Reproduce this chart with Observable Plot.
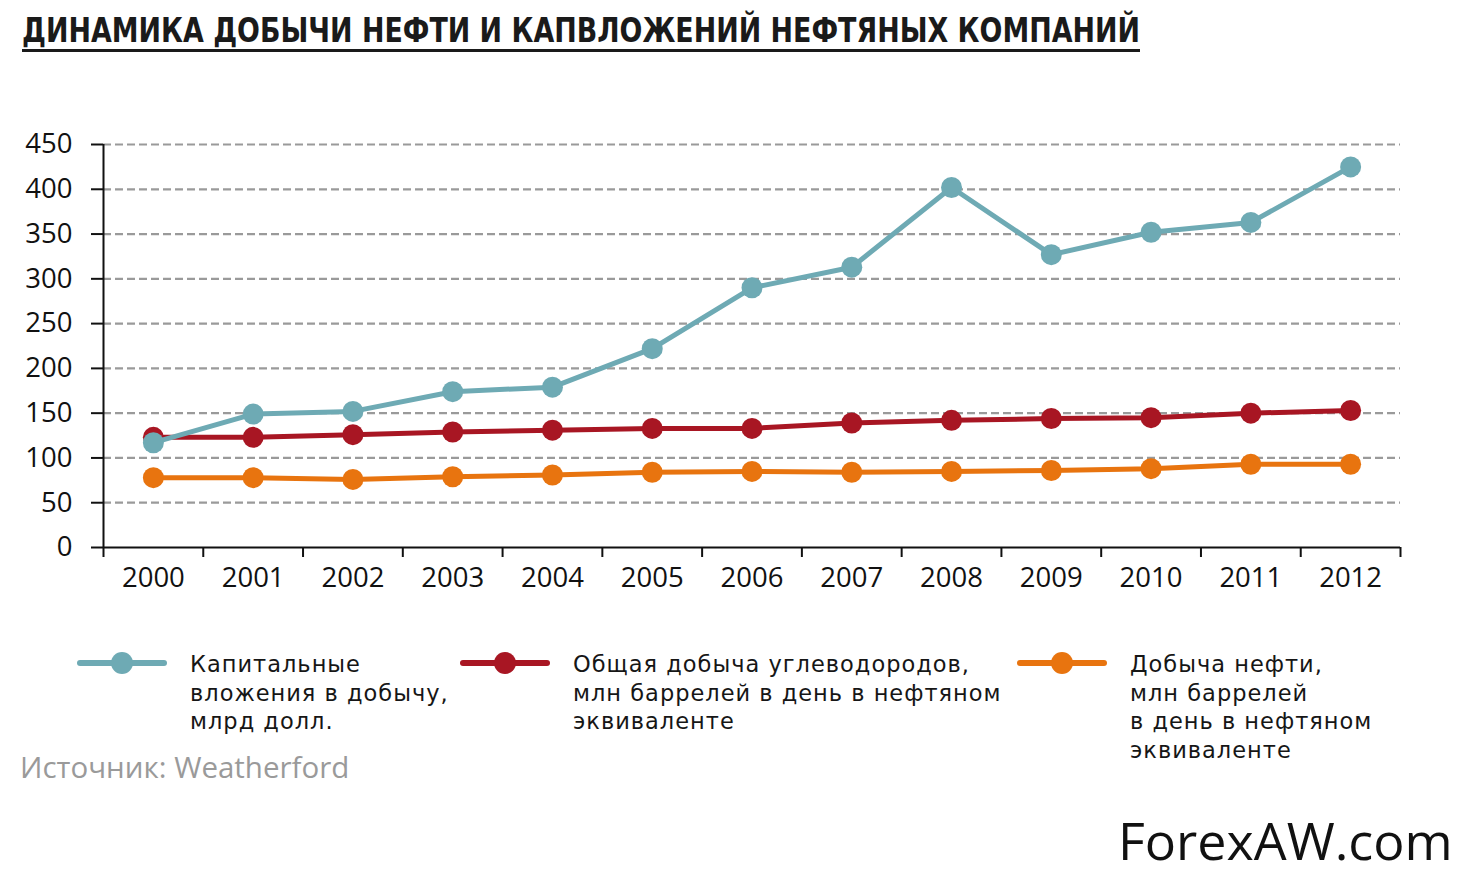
<!DOCTYPE html>
<html><head><meta charset="utf-8">
<script src="https://cdn.jsdelivr.net/npm/d3@7"></script>
<script src="https://cdn.jsdelivr.net/npm/@observablehq/plot@0.6"></script>
<style>
html,body{margin:0;padding:0;background:#fff;}
body{width:1462px;height:885px;position:relative;overflow:hidden;font-family:"Open Sans",sans-serif;color:#111;}
#title{position:absolute;left:22px;top:11px;font-family:"DejaVu Sans Condensed","DejaVu Sans",sans-serif;font-weight:bold;font-size:33px;color:#1a1a1a;white-space:nowrap;transform-origin:0 0;}
#uline{position:absolute;left:22px;top:49px;width:1118px;height:3px;background:#1a1a1a;}
#chart{position:absolute;left:0;top:0;}
.leg{position:absolute;top:650px;}
.sw{position:absolute;top:10px;height:6px;border-radius:3px;}
.dot{position:absolute;top:2px;width:22px;height:22px;border-radius:11px;}
.lt{position:absolute;top:0;font-family:"DejaVu Sans",sans-serif;font-size:22.5px;letter-spacing:1px;line-height:28.5px;white-space:nowrap;color:#161616;transform-origin:0 0;}
#src{position:absolute;left:20px;top:746px;font-size:29.5px;color:#9a9a9a;}
#wm{position:absolute;left:1118px;top:804px;font-size:52px;color:#111;}
</style></head>
<body>
<div id="chart"></div>
<div id="title">ДИНАМИКА ДОБЫЧИ НЕФТИ И КАПВЛОЖЕНИЙ НЕФТЯНЫХ КОМПАНИЙ</div>
<div id="uline"></div>
<div id="legend"></div>
<div id="src">Источник: Weatherford</div>
<div id="wm">ForexAW.com</div>
<script>
const years = [2000,2001,2002,2003,2004,2005,2006,2007,2008,2009,2010,2011,2012];
const capex = [117,149,152,174,179,222,290,313,402,327,352,363,425];
const totalProd = [123,123,126,129,131,133,133,139,142,144,145,150,153];
const oilProd = [78,78,76,79,81,84,85,84,85,86,88,93,93];
const yTicks = [0,50,100,150,200,250,300,350,400,450];
const seriesNames = [
  "Капитальные\nвложения в добычу,\nмлрд долл.",
  "Общая добыча углеводородов,\nмлн баррелей в день в нефтяном\nэквиваленте",
  "Добыча нефти,\nмлн баррелей\nв день в нефтяном\nэквиваленте"
];
const colors = ["#6eaab4","#a81623","#e8740f"];
const seriesValues = [capex, totalProd, oilProd];

const rows = [];
seriesValues.forEach((vals, s) => years.forEach((yr, i) => rows.push({series: s, year: yr, value: vals[i]})));
const drawOrder = [2,1,0];
const boundaries = d3.range(years[0]-0.5, years[years.length-1]+1, 1);

const lineMarks = [];
for (const s of drawOrder) {
  const d = rows.filter(r => r.series === s);
  lineMarks.push(Plot.line(d, {x:"year", y:"value", stroke: colors[s], strokeWidth:5, curve:"linear"}));
  lineMarks.push(Plot.dot(d, {x:"year", y:"value", fill: colors[s], r:10.5}));
}

const chart = Plot.plot({
  width: 1462, height: 600,
  marginLeft: 103, marginRight: 62, marginTop: 144, marginBottom: 53,
  style: {fontFamily: "'Open Sans', sans-serif", background: "transparent"},
  x: {type:"linear", domain:[years[0]-0.5, years[years.length-1]+0.5], axis:null},
  y: {domain:[0,450], axis:null},
  marks: [
    Plot.gridY(yTicks.filter(v => v > 0), {stroke:"#9a9a9a", strokeOpacity:1, strokeWidth:2.2, strokeDasharray:"8,4"}),
    Plot.ruleX([boundaries[0]], {stroke:"#111", strokeWidth:2}),
    Plot.ruleY([0], {stroke:"#111", strokeWidth:2}),
    Plot.axisY(yTicks, {anchor:"left", tickSize:12, tickPadding:19, fontSize:27.5, fill:"#111", stroke:"#111", strokeWidth:2, label:null, tickFormat:d3.format("d")}),
    Plot.axisX(boundaries, {anchor:"bottom", tickSize:10, stroke:"#111", strokeWidth:2, tickFormat:() => "", label:null}),
    Plot.axisX(years, {anchor:"bottom", tickSize:0, tickPadding:20, fontSize:27.5, fill:"#111", tickFormat:d3.format("d"), label:null}),
    ...lineMarks
  ]
});
document.getElementById("chart").appendChild(chart);

// legend
const legX = [77, 460, 1017];
const leg = document.getElementById("legend");
seriesNames.forEach((name, s) => {
  const item = document.createElement("div");
  item.className = "leg";
  item.style.left = legX[s] + "px";
  item.innerHTML = `<div class="sw" style="left:0;width:90px;background:${colors[s]}"></div>
    <div class="dot" style="left:34px;background:${colors[s]}"></div>
    <div class="lt" style="left:113px">${name.split("\n").join("<br>")}</div>`;
  leg.appendChild(item);
});

// fit title width
const t = document.getElementById("title");
const w = t.getBoundingClientRect().width;
t.style.transform = `scaleX(${1118 / w})`;
</script>
</body></html>
